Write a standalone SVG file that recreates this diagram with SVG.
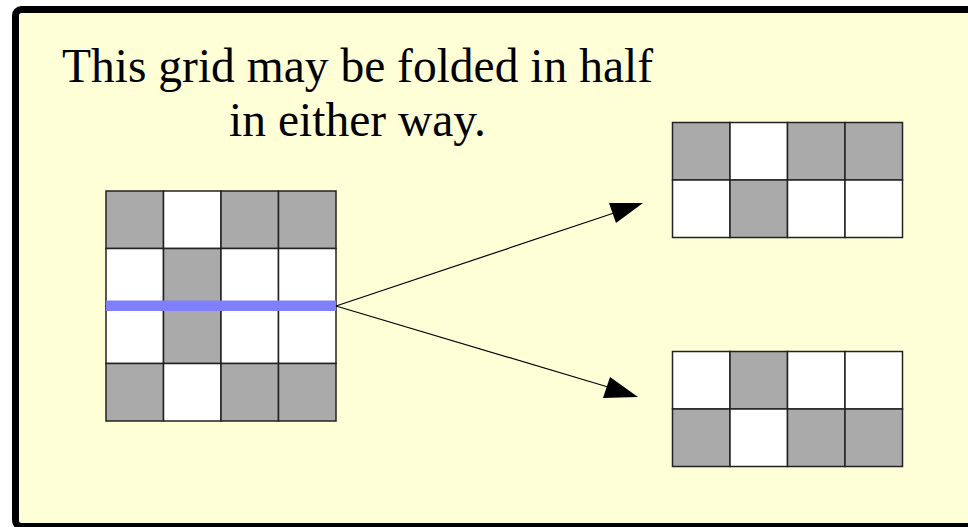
<svg xmlns="http://www.w3.org/2000/svg" width="968" height="527" viewBox="0 0 968 527">
<style>
.cell{stroke:#222;stroke-width:1.5}
.g{fill:#aaaaaa}
.w{fill:#ffffff}
.conn{stroke:#000;stroke-width:1.2;fill:none}
.head{fill:#000}
.txt{font-family:"Liberation Serif","Times New Roman",serif;font-size:47.5px;fill:#000;text-anchor:middle}
</style>
<rect x="15.5" y="9.5" width="970" height="517" rx="6" fill="#ffffd7" stroke="#000" stroke-width="7"/>
<g id="caption">
<text class="txt" x="357.5" y="82">This grid may be folded in half</text>
<text class="txt" x="357.5" y="136">in either way.</text>
</g>
<g id="grid-main">
<rect class="cell g" x="106" y="191" width="57.5" height="57.5"/>
<rect class="cell w" x="163.5" y="191" width="57.5" height="57.5"/>
<rect class="cell g" x="221" y="191" width="57.5" height="57.5"/>
<rect class="cell g" x="278.5" y="191" width="57.5" height="57.5"/>
<rect class="cell w" x="106" y="248.5" width="57.5" height="57.5"/>
<rect class="cell g" x="163.5" y="248.5" width="57.5" height="57.5"/>
<rect class="cell w" x="221" y="248.5" width="57.5" height="57.5"/>
<rect class="cell w" x="278.5" y="248.5" width="57.5" height="57.5"/>
<rect class="cell w" x="106" y="306" width="57.5" height="57.5"/>
<rect class="cell g" x="163.5" y="306" width="57.5" height="57.5"/>
<rect class="cell w" x="221" y="306" width="57.5" height="57.5"/>
<rect class="cell w" x="278.5" y="306" width="57.5" height="57.5"/>
<rect class="cell g" x="106" y="363.5" width="57.5" height="57.5"/>
<rect class="cell w" x="163.5" y="363.5" width="57.5" height="57.5"/>
<rect class="cell g" x="221" y="363.5" width="57.5" height="57.5"/>
<rect class="cell g" x="278.5" y="363.5" width="57.5" height="57.5"/>
<rect x="106" y="300.5" width="230" height="10.5" fill="#8080ff"/>
</g>
<g id="grid-top">
<rect class="cell g" x="672.5" y="122.5" width="57.5" height="57.5"/>
<rect class="cell w" x="730" y="122.5" width="57.5" height="57.5"/>
<rect class="cell g" x="787.5" y="122.5" width="57.5" height="57.5"/>
<rect class="cell g" x="845" y="122.5" width="57.5" height="57.5"/>
<rect class="cell w" x="672.5" y="180" width="57.5" height="57.5"/>
<rect class="cell g" x="730" y="180" width="57.5" height="57.5"/>
<rect class="cell w" x="787.5" y="180" width="57.5" height="57.5"/>
<rect class="cell w" x="845" y="180" width="57.5" height="57.5"/>
</g>
<g id="grid-bottom">
<rect class="cell w" x="672.5" y="351.5" width="57.5" height="57.5"/>
<rect class="cell g" x="730" y="351.5" width="57.5" height="57.5"/>
<rect class="cell w" x="787.5" y="351.5" width="57.5" height="57.5"/>
<rect class="cell w" x="845" y="351.5" width="57.5" height="57.5"/>
<rect class="cell g" x="672.5" y="409" width="57.5" height="57.5"/>
<rect class="cell w" x="730" y="409" width="57.5" height="57.5"/>
<rect class="cell g" x="787.5" y="409" width="57.5" height="57.5"/>
<rect class="cell g" x="845" y="409" width="57.5" height="57.5"/>
</g>
<g id="connectors">
<line class="conn" x1="336" y1="306" x2="614" y2="213"/>
<polygon class="head" points="643,203 609,203 616,223"/>
<line class="conn" x1="336" y1="306" x2="608" y2="387"/>
<polygon class="head" points="638,397 610,377 603,398"/>
</g>
</svg>
